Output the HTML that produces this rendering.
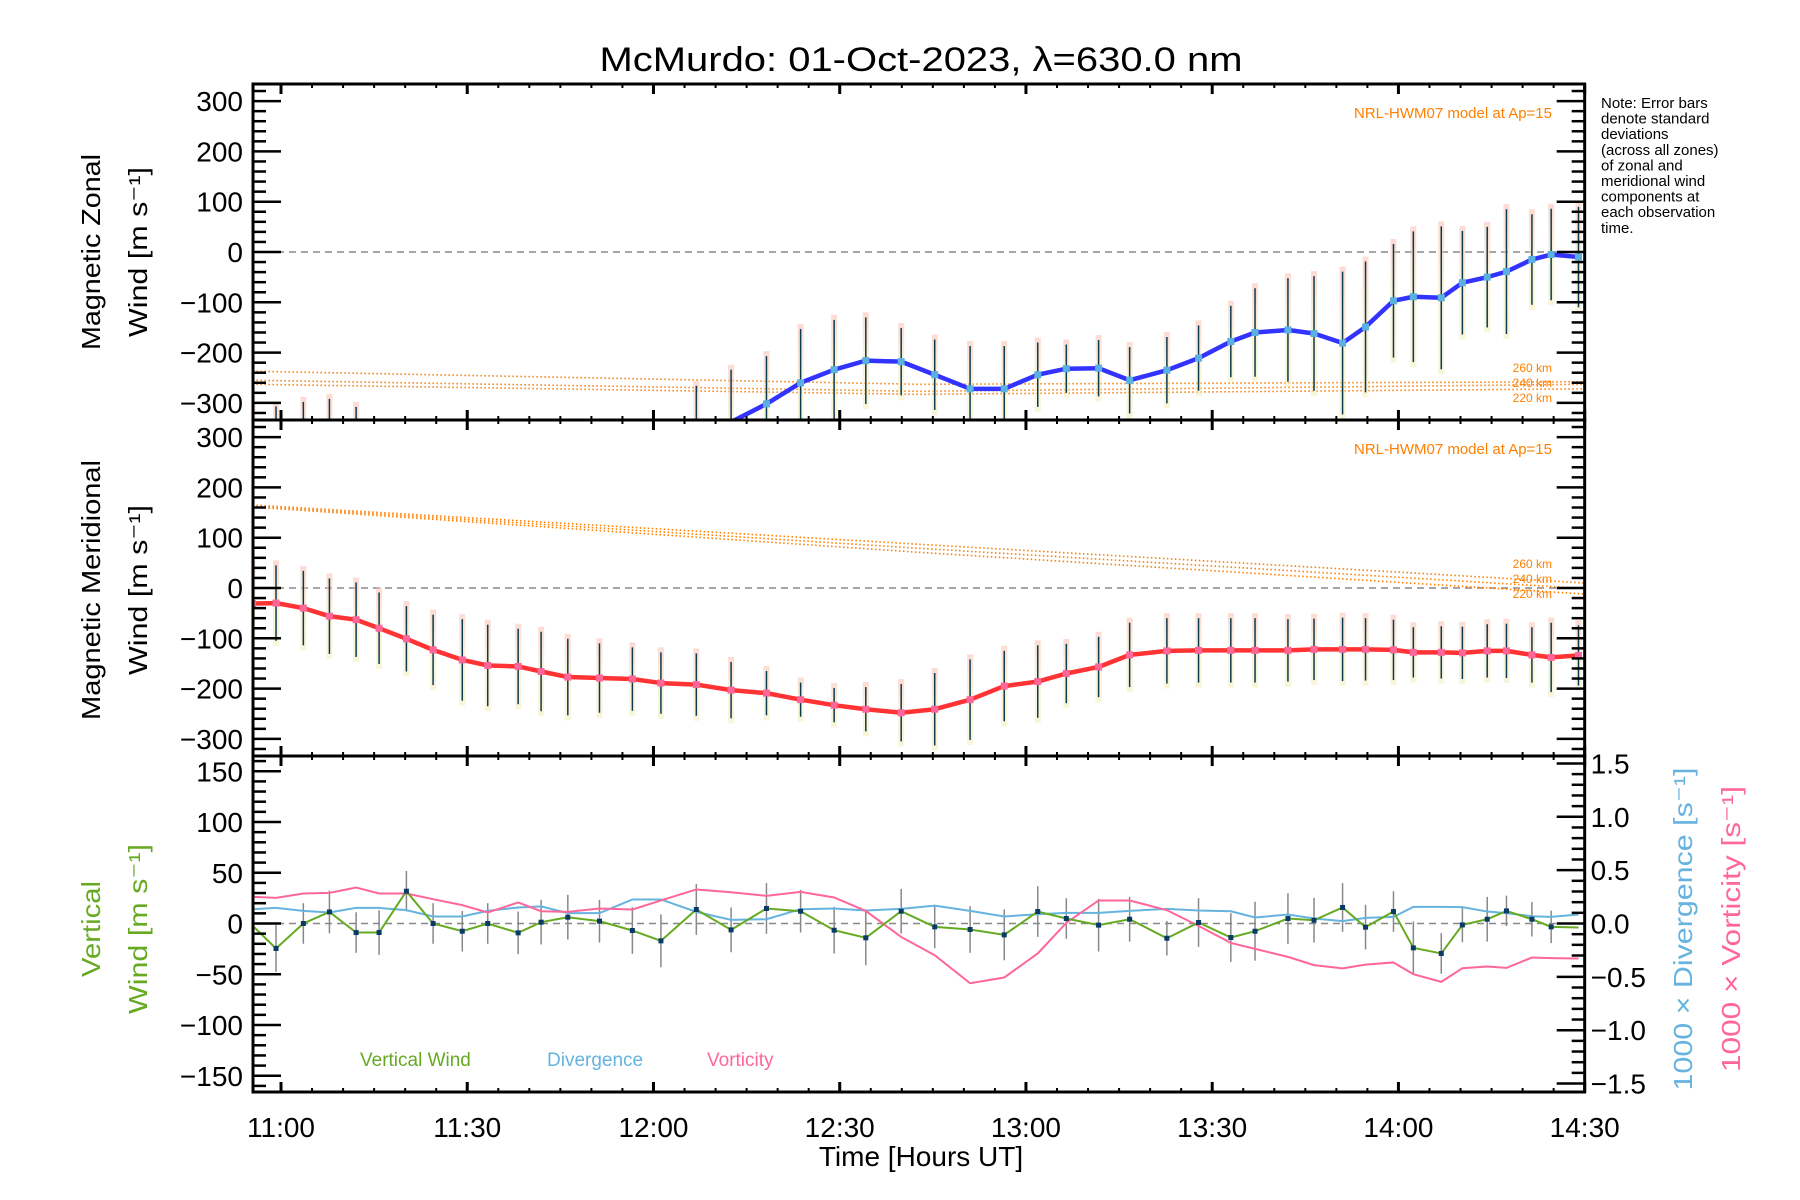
<!DOCTYPE html>
<html><head><meta charset="utf-8">
<style>
html,body{margin:0;padding:0;background:#fff;}
svg{display:block;font-family:"Liberation Sans",sans-serif;}
</style></head>
<body>
<svg id="chart" width="1800" height="1200" viewBox="0 0 1800 1200" xmlns="http://www.w3.org/2000/svg">
<defs>
<linearGradient id="pastel" x1="0" y1="0" x2="0" y2="1">
<stop offset="0" stop-color="#f8b8a8"/><stop offset="0.5" stop-color="#f6e6b0"/><stop offset="1" stop-color="#f2ecb0"/>
</linearGradient>
<clipPath id="c1"><rect x="253" y="84" width="1333" height="336"/></clipPath>
<clipPath id="c2"><rect x="253" y="420" width="1333" height="336"/></clipPath>
<clipPath id="c3"><rect x="253" y="756" width="1333" height="336"/></clipPath>
</defs>
<text x="921" y="71" font-size="34" text-anchor="middle" textLength="643" lengthAdjust="spacingAndGlyphs">McMurdo: 01-Oct-2023, λ=630.0 nm</text>
<g id="g1"></g><g id="g2"></g><g id="g3"></g><g id="ax"></g>
</svg>
<script>
// ---- data (minutes after 11:00 UT) ----
const zonTimes = [-4.6,-0.8,3.6,7.8,12.1,66.9,72.5,78.2,83.7,89.1,94.2,99.9,105.3,111,116.5,121.9,126.5,131.7,136.7,142.7,147.8,153,156.9,162.2,166.4,171,174.7,179.2,182.4,186.9,190.3,194.3,197.4,201.5,204.6,209];
const zonValues = [-400,-400,-400,-400,-400,-380,-338,-302,-260,-234,-216,-218,-244,-272,-272,-244,-232,-231,-255,-235,-211,-178,-160,-155,-162,-181,-149,-97,-89,-91,-61,-50,-39,-15,-5,-10];
const zonErrors = [90,93,102,108,92,114,104,95,107,99,86,67,70,85,85,64,48,56,66,66,65,71,88,103,114,142,130,113,130,142,103,100,124,90,91,100];
const times = [-4.6,-0.8,3.6,7.8,12.1,15.8,20.2,24.5,29.2,33.3,38.2,41.9,46.2,51.3,56.6,61.2,66.9,72.5,78.2,83.7,89.1,94.2,99.9,105.3,111,116.5,121.9,126.5,131.7,136.7,142.7,147.8,153,156.9,162.2,166.4,171,174.7,179.2,182.4,186.9,190.3,194.3,197.4,201.5,204.6,209];
const merValues = [-31,-30,-40,-56,-63,-80,-101,-123,-143,-154,-156,-166,-177,-179,-181,-189,-192,-203,-209,-222,-233,-241,-248,-241,-222,-195,-186,-170,-157,-133,-125,-124,-124,-124,-124,-122,-122,-122,-123,-128,-128,-129,-125,-125,-133,-138,-134];
const merErrors = [75,75,74,75,74,71,65,70,81,81,75,79,76,69,63,61,62,56,44,34,34,44,57,72,80,70,72,59,60,64,65,64,64,64,62,61,63,62,60,50,52,52,53,54,55,69,60];
const vertValues = [-2,-24.6,0,11.4,-8.9,-8.9,31.8,0,-7.6,0,-9.2,1.3,6.2,2.3,-6.9,-17.1,13.8,-6.3,14.8,12.1,-6.6,-14.1,12.1,-3.3,-5.9,-11.2,11.8,4.9,-1.6,4.2,-14.5,1,-13.8,-7.6,4.9,3.2,15.8,-3.6,11.8,-24,-29.5,-1.4,4.2,12.4,4.2,-3.3,-4];
const vertErrors = [0,23,20,21,20,22,20,20,20,20,21,22,22,21,23,26,25,22,25,21,23,27,22,21,23,25,25,20,26,22,17,24,24,29,25,22,24,22,20,26,20,17,22,15,17,16,0];
const divValues = [0.134,0.146,0.118,0.103,0.146,0.146,0.125,0.066,0.066,0.118,0.15,0.16,0.097,0.097,0.225,0.225,0.109,0.034,0.04,0.134,0.14,0.122,0.137,0.168,0.118,0.066,0.087,0.1,0.1,0.118,0.137,0.122,0.115,0.056,0.084,0.047,0.022,0.053,0.062,0.156,0.156,0.153,0.112,0.097,0.068,0.062,0.084];
const vorValues = [0.25,0.24,0.281,0.287,0.337,0.281,0.281,0.228,0.172,0.103,0.197,0.115,0.109,0.14,0.131,0.216,0.319,0.293,0.259,0.296,0.244,0.118,-0.126,-0.297,-0.56,-0.506,-0.281,0.006,0.216,0.216,0.125,-0.022,-0.182,-0.238,-0.313,-0.39,-0.42,-0.385,-0.365,-0.475,-0.547,-0.419,-0.403,-0.416,-0.319,-0.325,-0.328];
const hwmTimes = [-4.6,102.7,210];
const hwmZon260 = [-237,-263,-258];
const hwmZon240 = [-255,-277,-263];
const hwmZon220 = [-263,-283,-272];
const hwmMer260 = [165,87,10];
const hwmMer240 = [163,79,-1];
const hwmMer220 = [161,71,-12];
const xTickLabels = ["11:00","11:30","12:00","12:30","13:00","13:30","14:00","14:30"];
const windTicks = [-300,-200,-100,0,100,200,300];
const vertTicks = [-150,-100,-50,0,50,100,150];
const rightTicks = [-1.5,-1.0,-0.5,0.0,0.5,1.0,1.5];

// ---- scales ----
const X = t => 281 + t*6.208;
const L=253,R=X(210);
const panelTop=[84,420,756];
const Yw = (p,v) => panelTop[p]+168 - v*0.503;
const Yv = v => 923.5 - v*1.015;
const Yr = v => 923.5 - v*106.7;
const NS="http://www.w3.org/2000/svg";
function mk(tag,attrs,parent){const e=document.createElementNS(NS,tag);for(const k in attrs)e.setAttribute(k,attrs[k]);parent.appendChild(e);return e;}
const g1=document.getElementById('g1'),g2=document.getElementById('g2'),g3=document.getElementById('g3'),ax=document.getElementById('ax');
g1.setAttribute('clip-path','url(#c1)');g2.setAttribute('clip-path','url(#c2)');g3.setAttribute('clip-path','url(#c3)');

function zeroLine(g,y){const l=mk('line',{x1:L,x2:R,y1:y,y2:y,stroke:'#888','stroke-width':1.6,'stroke-dasharray':'7,5'},g);

}
zeroLine(g1,Yw(0,0));zeroLine(g2,Yw(1,0));zeroLine(g3,Yv(0));

function hwm(g,p,vals,name){const pts=hwmTimes.map((t,i)=>X(t)+','+Yw(p,vals[i])).join(' ');
const e=mk('polyline',{points:pts,fill:'none',stroke:'#ff8000','stroke-width':1.6,'stroke-dasharray':'1.5,2.5'},g);

}
hwm(g1,0,hwmZon260,'hwm-zonal-260km');hwm(g1,0,hwmZon240,'hwm-zonal-240km');hwm(g1,0,hwmZon220,'hwm-zonal-220km');
hwm(g2,1,hwmMer260,'hwm-meridional-260km');hwm(g2,1,hwmMer240,'hwm-meridional-240km');hwm(g2,1,hwmMer220,'hwm-meridional-220km');

function windSeries(g,p,ts,vals,errs,color,dot,name){
 ts.forEach((t,i)=>{const x=X(t),y1=Yw(p,vals[i]+errs[i]),y2=Yw(p,vals[i]-errs[i]);
  const b=mk('rect',{x:x-3,y:y1-5,width:6,height:y2-y1+10,fill:'url(#pastel)',opacity:0.5},g);
  
  
  const e=mk('line',{x1:x,x2:x,y1:y1,y2:y2,stroke:'#0b3a55','stroke-width':1.5},g);
  
  });
 const pl=mk('polyline',{points:ts.map((t,i)=>X(t)+','+Yw(p,vals[i])).join(' '),fill:'none',stroke:color,'stroke-width':4.5,'stroke-linejoin':'round'},g);
 
 
 ts.forEach((t,i)=>{const c=mk('rect',{x:X(t)-3.5,y:Yw(p,vals[i])-3.5,width:7,height:7,fill:dot},g);
  
  });
}
windSeries(g1,0,zonTimes,zonValues,zonErrors,'#3333ff','#5ab0e0','zonal-wind');
windSeries(g2,1,times,merValues,merErrors,'#ff3333','#ff6699','meridional-wind');

// panel 3
times.forEach((t,i)=>{if(!vertErrors[i])return;const e=mk('line',{x1:X(t),x2:X(t),y1:Yv(vertValues[i]+vertErrors[i]),y2:Yv(vertValues[i]-vertErrors[i]),stroke:'#888','stroke-width':1.5},g3);
 
 });
const dl=mk('polyline',{points:times.map((t,i)=>X(t)+','+Yr(divValues[i])).join(' '),fill:'none',stroke:'#66b3e0','stroke-width':2},g3);


const vl=mk('polyline',{points:times.map((t,i)=>X(t)+','+Yr(vorValues[i])).join(' '),fill:'none',stroke:'#ff6699','stroke-width':2},g3);


const gl=mk('polyline',{points:times.map((t,i)=>X(t)+','+Yv(vertValues[i])).join(' '),fill:'none',stroke:'#66aa22','stroke-width':2},g3);


times.forEach((t,i)=>{if(i===0||i===times.length-1)return;const c=mk('rect',{x:X(t)-2.5,y:Yv(vertValues[i])-2.5,width:5,height:5,fill:'#0a3a66'},g3);
 
 });

// ---- axes ----
function txt(x,y,s,size,anchor,color,name,extra){const e=mk('text',Object.assign({x:x,y:y,'font-size':size,'text-anchor':anchor,fill:color},extra||{}),ax);e.textContent=s;
 
 return e;}
function tick(x1,y1,x2,y2,w){mk('line',{x1:x1,y1:y1,x2:x2,y2:y2,stroke:'#000','stroke-width':w},ax);}
for(let p=0;p<3;p++){
 const T=panelTop[p],B=T+336;
 const fr=mk('rect',{x:L,y:T,width:R-L,height:336,fill:'none',stroke:'#000','stroke-width':3},ax);
 
 
 for(let m=-0;m<=210;m+=5){const x=X(m);const major=(m%30===0);const len=major?10:4;
  tick(x,T,x,T+len,major?3:2);tick(x,B,x,B-len,major?3:2);}
 if(p<2){
  for(let v=-320;v<=320;v+=20){const y=Yw(p,v);const major=(v%100===0);const len=major?28:13;
   tick(L,y,L+len,y,2.5);tick(R,y,R-len,y,2.5);}
  windTicks.forEach(v=>txt(243,Yw(p,v)+10,(v<0?'−':'')+Math.abs(v),28,'end','#000','y-tick-label'));
 } else {
  for(let v=-160;v<=160;v+=10){const y=Yv(v);const major=(v%50===0);const len=major?28:13;tick(L,y,L+len,y,2.5);}
  for(let v=-15;v<=15;v+=1){const y=Yr(v/10);const major=(v%5===0);const len=major?28:13;tick(R,y,R-len,y,2.5);}
  vertTicks.forEach(v=>txt(243,Yv(v)+10,(v<0?'−':'')+Math.abs(v),28,'end','#000','y-tick-label'));
  rightTicks.forEach(v=>txt(R+6,Yr(v)+10,(v<0?'−':'')+Math.abs(v).toFixed(1),28,'start','#000','right-tick-label'));
 }
}
xTickLabels.forEach((s,i)=>txt(X(i*30),1137,s,28,'middle','#000','x-tick-label'));
txt(921,1166,'Time [Hours UT]',28,'middle','#000','x-axis-title');
function rot(x,y,s,color,len,name){const e=txt(x,y,s,26,'middle',color,name,{transform:'rotate(-90 '+x+' '+y+')',textLength:len,lengthAdjust:'spacingAndGlyphs'});return e;}
rot(100,252,'Magnetic Zonal','#000',196,'zonal-axis-title');
rot(147,252,'Wind [m s⁻¹]','#000',170,'zonal-axis-unit');
rot(100,590,'Magnetic Meridional','#000',260,'meridional-axis-title');
rot(147,590,'Wind [m s⁻¹]','#000',170,'meridional-axis-unit');
rot(100,929,'Vertical','#66aa22',96,'vertical-axis-title');
rot(147,929,'Wind [m s⁻¹]','#66aa22',170,'vertical-axis-unit');
rot(1692,929,'1000 × Divergence [s⁻¹]','#66b3e0',323,'divergence-axis-title');
rot(1740,929,'1000 × Vorticity [s⁻¹]','#ff6699',286,'vorticity-axis-title');
txt(1552,118,'NRL-HWM07 model at Ap=15',15,'end','#ff8000','hwm-label-zonal');
txt(1552,454,'NRL-HWM07 model at Ap=15',15,'end','#ff8000','hwm-label-meridional');
[['260 km',372],['240 km',387],['220 km',402]].forEach(a=>txt(1552,a[1],a[0],12,'end','#ff8000','altitude-label'));
[['260 km',568],['240 km',583],['220 km',598]].forEach(a=>txt(1552,a[1],a[0],12,'end','#ff8000','altitude-label'));
txt(360,1066,'Vertical Wind',19,'start','#66aa22','legend-vertical-wind');
txt(547,1066,'Divergence',19,'start','#66b3e0','legend-divergence');
txt(707,1066,'Vorticity',19,'start','#ff6699','legend-vorticity');
['Note: Error bars','denote standard','deviations','(across all zones)','of zonal and','meridional wind','components at','each observation','time.'].forEach((s,i)=>txt(1601,108+i*15.6,s,15,'start','#000','note-text'));
</script>
</body></html>
